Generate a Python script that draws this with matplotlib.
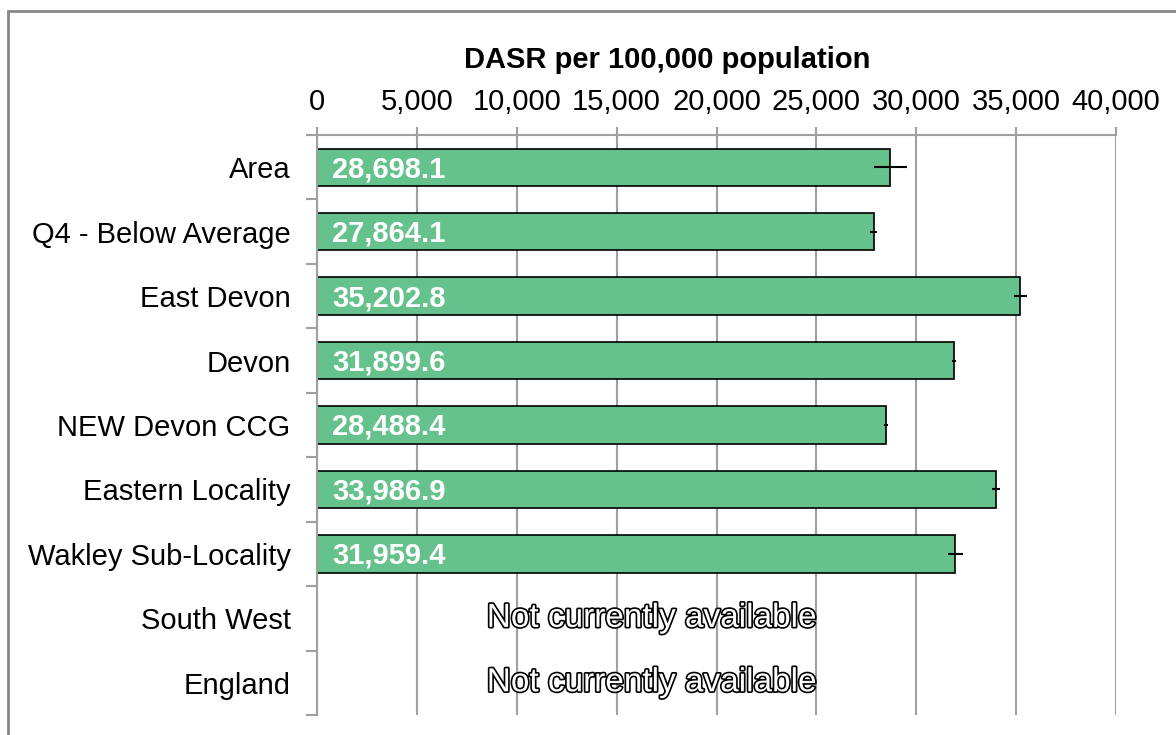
import numpy as np
import matplotlib
matplotlib.use("Agg")
import matplotlib.pyplot as plt
import matplotlib.patheffects as pe
from matplotlib.patches import Rectangle

plt.rcParams['font.family'] = ['Liberation Sans', 'DejaVu Sans']

categories = ['Area', 'Q4 - Below Average', 'East Devon', 'Devon', 'NEW Devon CCG',
              'Eastern Locality', 'Wakley Sub-Locality', 'South West', 'England']
values = [28698.1, 27864.1, 35202.8, 31899.6, 28488.4, 33986.9, 31959.4, np.nan, np.nan]
ci_lower = [27860, 27660, 34870, 31790, 28390, 33800, 31570, np.nan, np.nan]
ci_upper = [29520, 28050, 35520, 32010, 28590, 34170, 32350, np.nan, np.nan]
xticks = [0, 5000, 10000, 15000, 20000, 25000, 30000, 35000, 40000]

vals = np.array(values)
lo = vals - np.array(ci_lower)
hi = np.array(ci_upper) - vals
y = np.arange(len(categories))

fig = plt.figure(figsize=(11.76, 7.35), dpi=100)
ax = fig.add_axes([317/1176, 1 - 715/735, (1116 - 317)/1176, (715 - 135)/735])

grey = '#a0a0a0'
ax.set_axisbelow(True)
ax.xaxis.grid(True, color=grey, lw=1.5)

ok = ~np.isnan(vals)
ax.barh(y[ok], vals[ok], height=0.58, color='#66c28d', edgecolor='black', lw=1.2, zorder=2)
ax.errorbar(vals[ok], y[ok], xerr=[lo[ok], hi[ok]], fmt='none', ecolor='black',
            elinewidth=1.5, capsize=0, zorder=3)

for yi, v in zip(y, values):
    if np.isnan(v):
        ax.text(16750, yi, 'Not currently available', ha='center', va='center',
                fontsize=24, color='white', zorder=4,
                path_effects=[pe.Stroke(linewidth=2.4, foreground='black'), pe.Normal()])
    else:
        ax.annotate(f'{v:,.1f}', (0, yi + 0.03), xytext=(15, 0), textcoords='offset pixels',
                    ha='left', va='center', fontsize=21, fontweight='bold',
                    color='white', zorder=4)

ax.set_xlim(0, 40000)
ax.set_ylim(len(categories) - 0.5, -0.5)
ax.xaxis.tick_top()
ax.set_xticks(xticks)
ax.set_xticklabels([f'{t:,}' for t in xticks], fontsize=21)
ax.tick_params(axis='x', length=6, color=grey, width=1.5, pad=8)

ax.set_yticks(y)
ax.set_yticklabels(categories, fontsize=21)
ax.set_yticks(np.arange(-0.5, len(categories)), minor=True)
ax.tick_params(axis='y', which='major', length=0, pad=19)
ax.tick_params(axis='y', which='minor', length=8, color=grey, width=1.5)

for s in ['right', 'bottom']:
    ax.spines[s].set_visible(False)
for s in ['top', 'left']:
    ax.spines[s].set_color(grey)
    ax.spines[s].set_linewidth(1.5)

fig.text(667/1176, 1 - 60/735, 'DASR per 100,000 population', ha='center', va='center',
         fontsize=21, fontweight='bold')

fig.patches.append(Rectangle((8/1176, -0.1), 1.2, 1.1 - 11/735, transform=fig.transFigure,
                             fill=False, edgecolor='#888888', lw=2))

fig.savefig('out.png', dpi=100)
